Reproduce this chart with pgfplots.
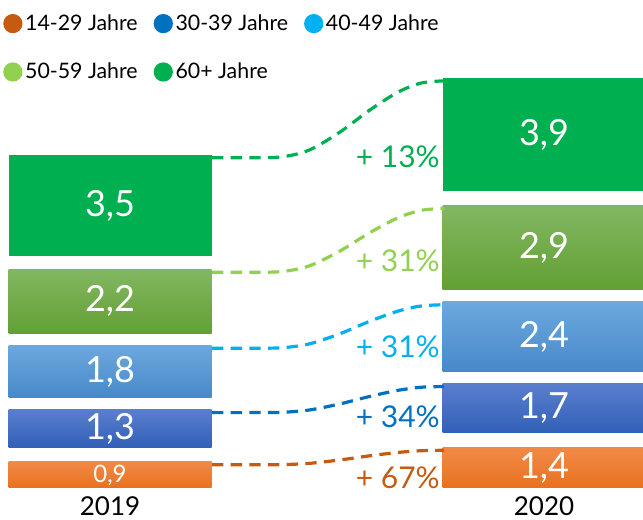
\documentclass[border=0pt]{standalone}
\usepackage{pgfplots}
\pgfplotsset{compat=1.18}
\usepackage{fontspec}
\setmainfont{Lato}
\definecolor{cOr}{HTML}{C55A11}
\definecolor{cBl}{HTML}{0070C0}
\definecolor{cLb}{HTML}{00B0F0}
\definecolor{cLg}{HTML}{92D050}
\definecolor{cGr}{HTML}{00B050}
\definecolor{orT}{HTML}{F18A48}
\definecolor{orB}{HTML}{E8711E}
\definecolor{blT}{HTML}{5A7ECE}
\definecolor{blB}{HTML}{3160B8}
\definecolor{lbT}{HTML}{6DA8DE}
\definecolor{lbB}{HTML}{4689C9}
\definecolor{lgT}{HTML}{82B761}
\definecolor{lgB}{HTML}{62A034}
\pgfplotsset{
  base/.style={width=482.25pt, height=390pt, scale only axis,
    xmin=0, xmax=643, ymin=-1.1034, ymax=16.8276,
    axis lines=none, clip=false},
  gap/.style={draw=none, fill=none},
}
\begin{document}
\begin{tikzpicture}
% 2019 column
\begin{axis}[base, ybar stacked, bar width=203]
\addplot[draw=none, top color=orT, bottom color=orB] coordinates {(110,0.9)};
\addplot[gap] coordinates {(110,0.5)};
\addplot[draw=none, top color=blT, bottom color=blB] coordinates {(110,1.3)};
\addplot[gap] coordinates {(110,0.42)};
\addplot[draw=none, top color=lbT, bottom color=lbB] coordinates {(110,1.8)};
\addplot[gap] coordinates {(110,0.42)};
\addplot[draw=none, top color=lgT, bottom color=lgB] coordinates {(110,2.2)};
\addplot[gap] coordinates {(110,0.45)};
\addplot[draw=none, fill=cGr] coordinates {(110,3.5)};
\end{axis}
% 2020 column
\begin{axis}[base, ybar stacked, bar width=203]
\addplot[draw=none, top color=orT, bottom color=orB] coordinates {(544,1.4)};
\addplot[gap] coordinates {(544,0.5)};
\addplot[draw=none, top color=blT, bottom color=blB] coordinates {(544,1.7)};
\addplot[gap] coordinates {(544,0.42)};
\addplot[draw=none, top color=lbT, bottom color=lbB] coordinates {(544,2.4)};
\addplot[gap] coordinates {(544,0.42)};
\addplot[draw=none, top color=lgT, bottom color=lgB] coordinates {(544,2.9)};
\addplot[gap] coordinates {(544,0.5)};
\addplot[draw=none, fill=cGr] coordinates {(544,3.9)};
\end{axis}
% connectors, legend, labels
\begin{axis}[base,
  legend columns=3,
  legend cell align=left,
  legend image code/.code={\fill[solid] (0pt,0pt) circle (6pt);},
  legend style={at={(axis cs:3,16.42)}, anchor=north west, draw=none, fill=none,
    font=\fontsize{16}{19}\selectfont, inner sep=0pt, row sep=19pt,
    /tikz/every even column/.append style={column sep=10pt}},
  every axis plot/.append style={line width=2.4pt, dash pattern=on 8.5pt off 5.5pt, smooth},
]
\addplot[color=cOr] coordinates {(212,0.8) (246.8,0.8) (281.6,0.805) (309.4,0.85) (339.6,0.965) (369.8,1.11) (397.6,1.225) (420.8,1.285) (444,1.3)};
\addlegendentry{14-29 Jahre}
\addplot[color=cBl] coordinates {(212,2.6) (246.8,2.6) (281.6,2.609) (309.4,2.69) (339.6,2.897) (369.8,3.158) (397.6,3.365) (420.8,3.473) (444,3.5)};
\addlegendentry{30-39 Jahre}
\addplot[color=cLb] coordinates {(212,4.82) (246.8,4.82) (281.6,4.835) (309.4,4.97) (339.6,5.315) (369.8,5.75) (397.6,6.095) (420.8,6.275) (444,6.32)};
\addlegendentry{40-49 Jahre}
\addplot[color=cLg] coordinates {(212,7.44) (246.8,7.44) (281.6,7.462) (309.4,7.66) (339.6,8.166) (369.8,8.804) (397.6,9.31) (420.8,9.574) (444,9.64)};
\addlegendentry{50-59 Jahre}
\addplot[color=cGr] coordinates {(212,11.39) (246.8,11.39) (281.6,11.4165) (309.4,11.655) (339.6,12.2645) (369.8,13.033) (397.6,13.6425) (420.8,13.9605) (444,14.04)};
\addlegendentry{60+ Jahre}
% percentage labels
\begin{scope}[every node/.style={anchor=east, inner sep=0pt, font=\fontsize{22.5}{26}\selectfont}]
\node[text=cGr] at (axis cs:440,11.41) {+ 13\%};
\node[text=cLg] at (axis cs:440,7.84) {+ 31\%};
\node[text=cLb] at (axis cs:440,4.86) {+ 31\%};
\node[text=cBl] at (axis cs:440,2.45) {+ 34\%};
\node[text=cOr] at (axis cs:440,0.34) {+ 67\%};
\end{scope}
% values
\begin{scope}[every node/.style={inner sep=0pt, text=white, font=\fontsize{27}{30}\selectfont}]
\node[font=\fontsize{18}{20}\selectfont] at (axis cs:110,0.45) {0,9};
\node at (axis cs:110,2.05) {1,3};
\node at (axis cs:110,4.02) {1,8};
\node at (axis cs:110,6.44) {2,2};
\node at (axis cs:110,9.74) {3,5};
\node at (axis cs:544,0.7) {1,4};
\node at (axis cs:544,2.75) {1,7};
\node at (axis cs:544,5.22) {2,4};
\node at (axis cs:544,8.29) {2,9};
\node at (axis cs:544,12.19) {3,9};
\end{scope}
\node[inner sep=0pt, font=\fontsize{19.5}{22}\selectfont] at (axis cs:110,-0.62) {2019};
\node[inner sep=0pt, font=\fontsize{19.5}{22}\selectfont] at (axis cs:544,-0.62) {2020};
\coordinate (bl) at (rel axis cs:0,0);
\coordinate (tr) at (rel axis cs:1,1);
\end{axis}
\pgfresetboundingbox
\path (bl) rectangle (tr);
\end{tikzpicture}
\end{document}
